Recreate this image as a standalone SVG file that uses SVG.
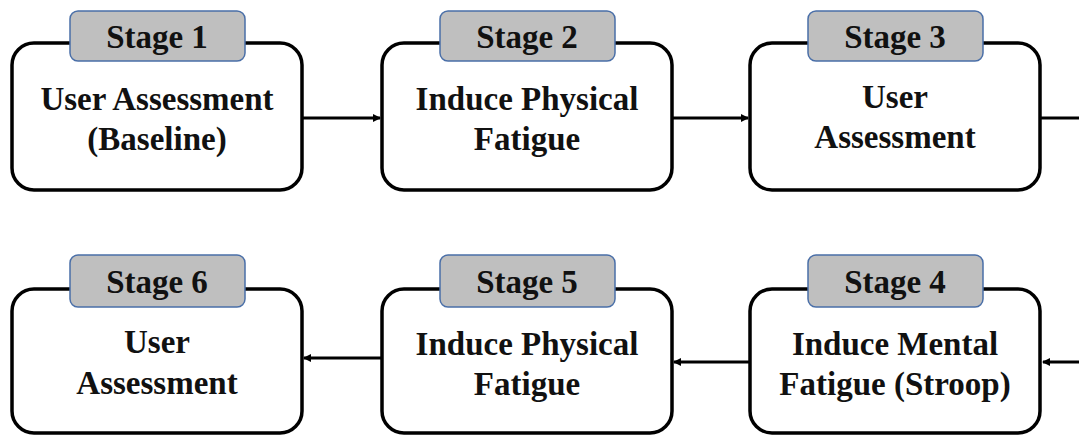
<svg xmlns="http://www.w3.org/2000/svg" width="1079" height="436" viewBox="0 0 1079 436">
<defs>
<style>
.box{fill:#fff;stroke:#000;stroke-width:3.5}
.tab{fill:#bfbfbf;stroke:#4a6fa8;stroke-width:1.5}
.t{font-family:'Liberation Serif','Times New Roman',serif;font-weight:700;font-size:33px;fill:#111;text-anchor:middle}
.c{stroke:#000;stroke-width:3;fill:none}
</style>
<marker id="ah" markerWidth="8" markerHeight="8" refX="7" refY="4" orient="auto" markerUnits="userSpaceOnUse">
<path d="M0,0 L8,4 L0,8 Z" fill="#000"/>
</marker>
</defs>
<g id="connectors">
<line class="c" x1="302" y1="118" x2="380" y2="118" marker-end="url(#ah)"/>
<line class="c" x1="672" y1="118" x2="748" y2="118" marker-end="url(#ah)"/>
<line class="c" x1="1040" y1="118" x2="1079" y2="118"/>
<line class="c" x1="1079" y1="362" x2="1043" y2="362" marker-end="url(#ah)"/>
<line class="c" x1="750" y1="362" x2="674" y2="362" marker-end="url(#ah)"/>
<line class="c" x1="382" y1="358" x2="304" y2="358" marker-end="url(#ah)"/>
</g>
<g id="stage1">
<rect class="box" x="12" y="43" width="290" height="147" rx="22"/>
<rect class="tab" x="70" y="11" width="175" height="50" rx="8"/>
<text class="t" x="157" y="48">Stage 1</text>
<text class="t" x="157" y="110">User Assessment</text>
<text class="t" x="157" y="150">(Baseline)</text>
</g>
<g id="stage2">
<rect class="box" x="382" y="43" width="290" height="147" rx="22"/>
<rect class="tab" x="440" y="11" width="175" height="50" rx="8"/>
<text class="t" x="527" y="48">Stage 2</text>
<text class="t" x="527" y="110">Induce Physical</text>
<text class="t" x="527" y="150">Fatigue</text>
</g>
<g id="stage3">
<rect class="box" x="750" y="43" width="290" height="147" rx="22"/>
<rect class="tab" x="808" y="11" width="175" height="50" rx="8"/>
<text class="t" x="895" y="48">Stage 3</text>
<text class="t" x="895" y="108">User</text>
<text class="t" x="895" y="148">Assessment</text>
</g>
<g id="stage4">
<rect class="box" x="750" y="289" width="290" height="144" rx="22"/>
<rect class="tab" x="808" y="255" width="175" height="52" rx="8"/>
<text class="t" x="895" y="293">Stage 4</text>
<text class="t" x="895" y="355">Induce Mental</text>
<text class="t" x="895" y="395">Fatigue (Stroop)</text>
</g>
<g id="stage5">
<rect class="box" x="382" y="289" width="290" height="144" rx="22"/>
<rect class="tab" x="440" y="255" width="175" height="52" rx="8"/>
<text class="t" x="527" y="293">Stage 5</text>
<text class="t" x="527" y="355">Induce Physical</text>
<text class="t" x="527" y="395">Fatigue</text>
</g>
<g id="stage6">
<rect class="box" x="12" y="289" width="290" height="144" rx="22"/>
<rect class="tab" x="70" y="255" width="175" height="52" rx="8"/>
<text class="t" x="157" y="293">Stage 6</text>
<text class="t" x="157" y="353">User</text>
<text class="t" x="157" y="394">Assessment</text>
</g>
</svg>
